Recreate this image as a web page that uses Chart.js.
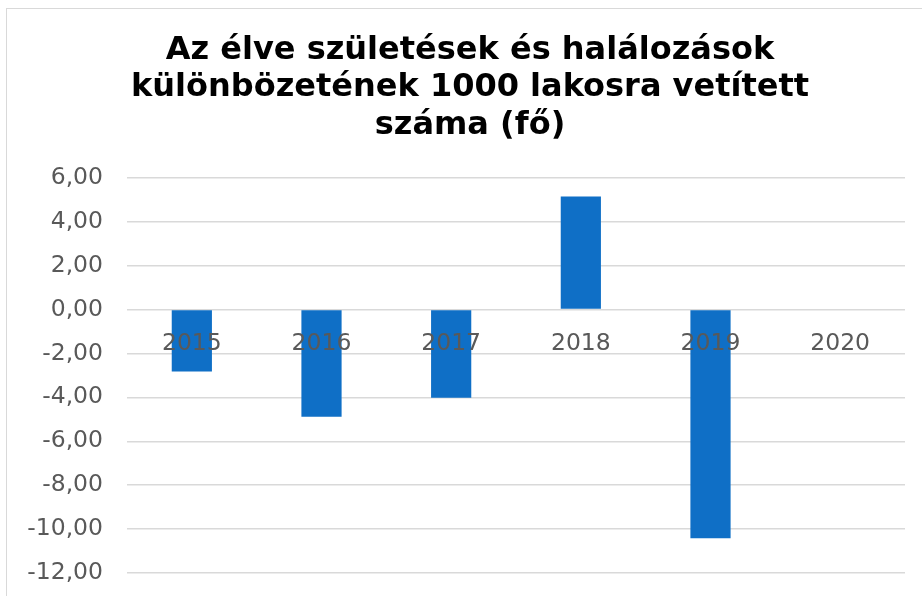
<!DOCTYPE html>
<html>
<head>
<meta charset="utf-8">
<script src="https://cdn.jsdelivr.net/npm/chart.js@4"></script>
<style>
  html, body { margin: 0; padding: 0; background: #fff; }
  #wrap { position: relative; width: 922px; height: 596px; overflow: hidden; }
  #frame { position: absolute; left: 6px; top: 8px; width: 1000px; height: 1000px; border: 1px solid #d9d9d9; box-sizing: border-box; }
  canvas { position: absolute; left: 0; top: 0; }
</style>
</head>
<body>
<div id="wrap">
  <div id="frame"></div>
  <canvas id="c" width="922" height="596"></canvas>
</div>
<script>
const titleLines = ["Az élve születések és halálozások", "különbözetének 1000 lakosra vetített", "száma (fő)"];
const categories = ["2015", "2016", "2017", "2018", "2019", "2020"];
const values = [-2.82, -4.88, -4.02, 5.15, -10.42, null];
const yMin = -12, yMax = 6, yStep = 2;

const fontFamily = "'DejaVu Sans', Verdana, sans-serif";

const shiftTitle = {
  id: 'shiftTitle',
  afterLayout(chart) {
    if (chart.titleBlock) { chart.titleBlock.left += 35; }
  }
};

new Chart(document.getElementById('c'), {
  type: 'bar',
  data: {
    labels: categories,
    datasets: [{
      data: values,
      backgroundColor: '#0F6FC6',
      borderWidth: 0,
      barPercentage: 0.31,
      categoryPercentage: 1.0
    }]
  },
  plugins: [shiftTitle],
  options: {
    responsive: false,
    animation: false,
    devicePixelRatio: 1,
    layout: { padding: { left: 0, right: 17, top: 0, bottom: 23 } },
    plugins: {
      legend: { display: false },
      tooltip: { enabled: false },
      title: {
        display: true,
        text: titleLines,
        color: '#000',
        font: { family: fontFamily, size: 32, weight: 'bold', lineHeight: 1.16 },
        padding: { top: 32.5, bottom: 34 }
      }
    },
    scales: {
      x: {
        type: 'category',
        position: { y: 0 },
        grid: { display: false, drawTicks: false },
        border: { display: false },
        ticks: {
          z: 1,
          color: '#595959',
          font: { family: fontFamily, size: 23.5 },
          padding: 20,
          maxRotation: 0,
          autoSkip: false
        },
        afterFit: s => { s.height = 0; }
      },
      y: {
        min: yMin,
        max: yMax,
        grid: { color: '#d9d9d9', lineWidth: 1.5, drawTicks: false },
        border: { display: false },
        ticks: {
          stepSize: yStep,
          color: '#595959',
          font: { family: fontFamily, size: 23.5 },
          padding: 24,
          callback: v => Number(v).toFixed(2).replace('.', ',')
        },
        afterFit: s => { s.width = 127; s.paddingTop = 0; s.paddingBottom = 0; }
      }
    }
  }
});
</script>
</body>
</html>
